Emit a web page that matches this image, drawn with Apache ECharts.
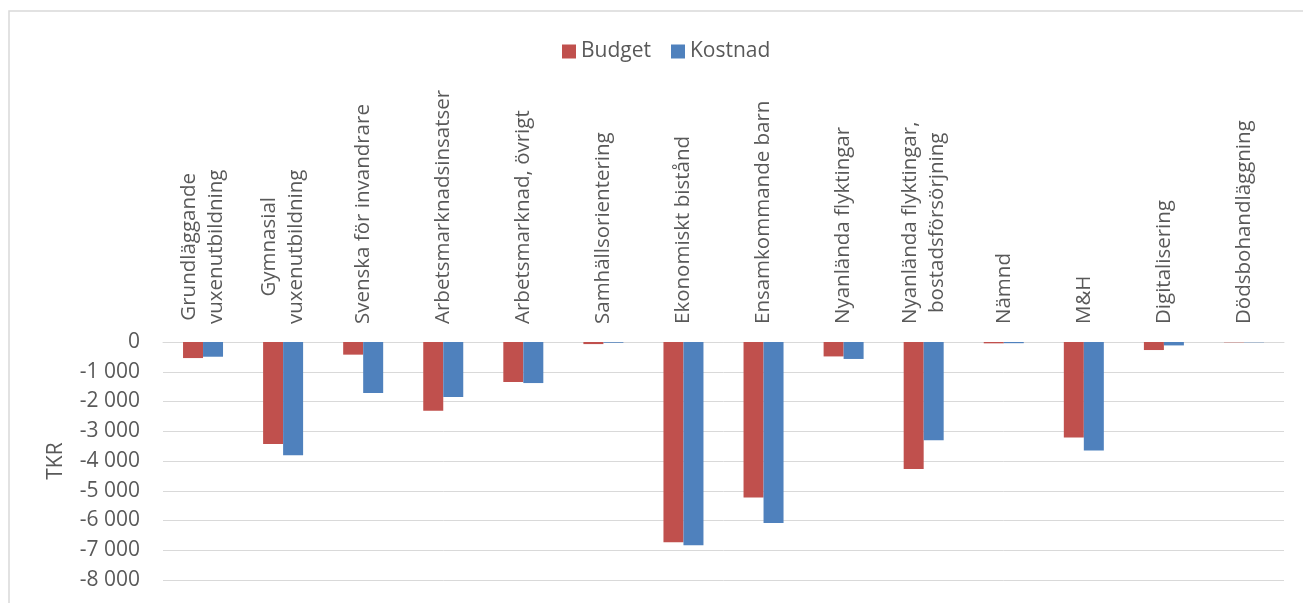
<!DOCTYPE html>
<html>
<head>
<meta charset="utf-8">
<script src="https://cdn.jsdelivr.net/npm/echarts@6/dist/echarts.min.js"></script>
<style>
html,body{margin:0;padding:0;background:#fff;}
#chart{width:1303px;height:603px;}
</style>
</head>
<body>
<div id="chart"></div>
<script>
const categories = [
  "Grundläggande\nvuxenutbildning",
  "Gymnasial\nvuxenutbildning",
  "Svenska för invandrare",
  "Arbetsmarknadsinsatser",
  "Arbetsmarknad, övrigt",
  "Samhällsorientering",
  "Ekonomiskt bistånd",
  "Ensamkommande barn",
  "Nyanlända flyktingar",
  "Nyanlända flyktingar,\nbostadsförsörjning",
  "Nämnd",
  "M&H",
  "Digitalisering",
  "Dödsbohandläggning"
];
const budget  = [-540, -3425, -425, -2315, -1345, -70, -6735, -5230, -485, -4265, -45, -3210, -270, -10];
const kostnad = [-495, -3805, -1715, -1850, -1380, -25, -6835, -6085, -570, -3300, -40, -3650, -115, -10];
const yTicks = { min: -8000, max: 0, interval: 1000 };

const FONT = "Open Sans";
const FS = 21;
const CFS = 20.5;
const TXT = "#595959";

function fmt(v) {
  const s = Math.abs(v).toString().replace(/\B(?=(\d{3})+(?!\d))/g, " ");
  return (v < 0 ? "-" : "") + s;
}

// Centre the lines of multi-line category labels with per-line padding.
const ctx = document.createElement('canvas').getContext('2d');
ctx.font = CFS + 'px "' + FONT + '"';
const rich = {};
const labelMap = {};
categories.forEach(function (cat, i) {
  const lines = cat.split('\n');
  const widths = lines.map(function (l) { return ctx.measureText(l).width; });
  const W = Math.max.apply(null, widths);
  labelMap[cat] = lines.map(function (l, j) {
    const name = 'p' + i + '_' + j;
    const pad = (W - widths[j]) / 2;
    rich[name] = { fontFamily: FONT, fontSize: CFS, color: TXT, lineHeight: 27,
                   padding: [0, 0, 0, pad] };
    return '{' + name + '|' + l + '}';
  }).join('\n');
});

const chart = echarts.init(document.getElementById('chart'));
chart.setOption({
  animation: false,
  backgroundColor: '#fff',
  textStyle: { fontFamily: FONT, color: TXT },
  graphic: [{
    type: 'rect',
    silent: true,
    shape: { x: 9, y: 11, width: 1400, height: 700 },
    style: { fill: 'none', stroke: '#d9d9d9', lineWidth: 1.5 }
  }],
  legend: {
    top: 36,
    left: 557,
    itemWidth: 14,
    itemHeight: 14,
    itemGap: 20,
    icon: 'rect',
    textStyle: { fontFamily: FONT, fontSize: FS, color: TXT },
    data: ['Budget', 'Kostnad']
  },
  grid: { left: 163, right: 19, top: 342, bottom: 23, containLabel: false },
  xAxis: {
    type: 'category',
    position: 'top',
    data: categories,
    axisLine: { lineStyle: { color: '#d9d9d9', width: 1 } },
    axisTick: { show: false },
    axisLabel: {
      interval: 0,
      rotate: 90,
      margin: 18,
      fontFamily: FONT,
      fontSize: CFS,
      color: TXT,
      formatter: function (v) { return labelMap[v] || v; },
      rich: rich
    }
  },
  yAxis: {
    type: 'value',
    min: yTicks.min,
    max: yTicks.max,
    interval: yTicks.interval,
    name: 'TKR',
    nameLocation: 'middle',
    nameGap: 96,
    nameRotate: 90,
    nameTextStyle: { fontFamily: FONT, fontSize: FS, color: TXT },
    axisLine: { show: false },
    axisTick: { show: false },
    axisLabel: { margin: 23, fontFamily: FONT, fontSize: FS, color: TXT, formatter: fmt },
    splitLine: { lineStyle: { color: '#d9d9d9', width: 1 } }
  },
  series: [
    { name: 'Budget', type: 'bar', data: budget, barWidth: 20, barGap: '0%',
      itemStyle: { color: '#C0504D' } },
    { name: 'Kostnad', type: 'bar', data: kostnad, barWidth: 20, barGap: '0%',
      itemStyle: { color: '#4F81BD' } }
  ]
});
</script>
</body>
</html>
